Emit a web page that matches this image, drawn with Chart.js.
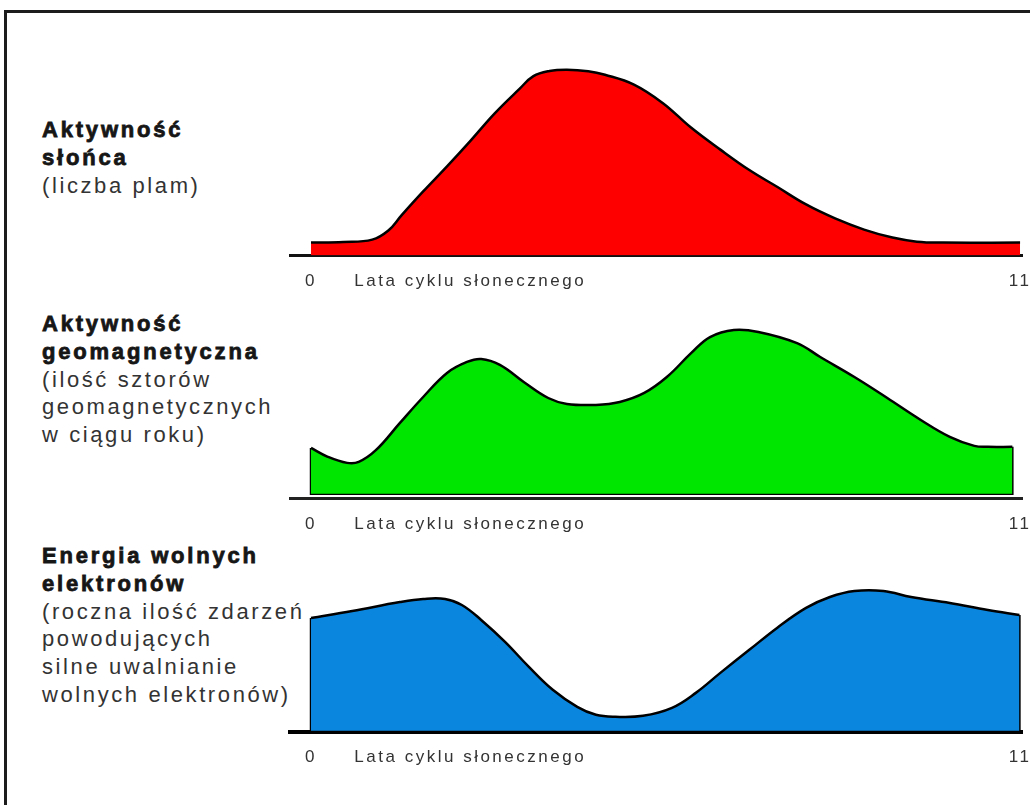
<!DOCTYPE html>
<html lang="pl">
<head>
<meta charset="utf-8">
<title>Cykl słoneczny</title>
<script src="https://cdn.jsdelivr.net/npm/chart.js@4.4.1/dist/chart.umd.min.js"></script>
<style>
    html, body { margin: 0; padding: 0; background: #fff; width: 1030px; height: 805px; overflow: hidden; }
    #frame { position: absolute; left: 4px; top: 10px; width: 1100px; height: 900px; border: 3px solid #1c1c1c; }
    .label { position: absolute; left: 42px; font-family: "Liberation Sans", Arial, sans-serif; font-size: 22px;
             line-height: 27.8px; letter-spacing: 2.6px; color: #333; white-space: nowrap; }
    .label b { color: #161616; letter-spacing: 2.8px; -webkit-text-stroke: 0.8px #161616; }
    canvas { position: absolute; left: 280px; }
</style>
</head>
<body>
<div id="frame"></div>

<div class="label" style="top:116px"><b>Aktywność<br>słońca</b><br>(liczba plam)</div>
<div class="label" style="top:310px"><b>Aktywność<br>geomagnetyczna</b><br>(ilość sztorów<br>geomagnetycznych<br>w ciągu roku)</div>
<div class="label" style="top:542px"><b>Energia wolnych<br>elektronów</b><br>(roczna ilość zdarzeń<br>powodujących<br>silne uwalnianie<br>wolnych elektronów)</div>

<canvas id="sunChart" width="760" height="245" style="top:50px"></canvas>
<canvas id="geoChart" width="760" height="228" style="top:310px"></canvas>
<canvas id="electronChart" width="760" height="203" style="top:568px"></canvas>

<script>
// x axis: years of the solar cycle
var xTickValues = [0, 2.47, 11];
var xTickLabels = ['0', 'Lata cyklu słonecznego', '11'];

// Aktywność słońca (liczba plam), % of maximum
var sunYears  = [0, 0.5, 0.95, 1.2, 1.4, 1.74, 2.11, 2.48, 2.85, 3.23, 3.45, 3.7, 3.97, 4.3, 4.56, 5.01, 5.46, 5.89, 6.35, 6.8, 7.23, 7.68, 8.13, 8.58, 9.02, 9.4, 9.8, 11];
var sunValues = [7, 7.3, 8.6, 13.5, 21.5, 34.5, 48, 62, 76.5, 89.5, 96.5, 99.3, 100, 99.2, 97.3, 92, 82, 69, 57, 46, 37, 27.5, 20, 14, 9.7, 7.5, 7, 7];

// Aktywność geomagnetyczna (ilość sztorów), % of maximum
var geoYears  = [0, 0.26, 0.56, 0.74, 1.01, 1.38, 1.74, 2.11, 2.42, 2.64, 2.93, 3.3, 3.68, 3.97, 4.42, 4.79, 5.17, 5.52, 5.9, 6.19, 6.56, 6.94, 7.54, 7.9, 8.43, 8.94, 9.46, 9.91, 10.29, 10.5, 10.88];
var geoValues = [28, 22.6, 18.9, 19.5, 26.8, 43.3, 59.1, 73.8, 80.5, 82.3, 78.7, 68.3, 58.5, 54.9, 54.3, 56.1, 61.6, 71.3, 86, 95.7, 100, 98.8, 92, 83.5, 71.3, 58.5, 45.1, 34.8, 29.3, 28.7, 28.7];

// Energia wolnych elektronów (roczna ilość zdarzeń), % of maximum
var electronYears  = [0, 0.64, 1.38, 1.74, 2.08, 2.34, 2.64, 3.01, 3.38, 3.75, 4.13, 4.42, 4.72, 5.15, 5.6, 5.97, 6.35, 6.8, 7.23, 7.68, 8.05, 8.43, 8.88, 9.31, 9.91, 10.5, 10.99];
var electronValues = [80.7, 85.7, 92.1, 94.3, 94.3, 90, 79.3, 63.6, 45.7, 29.3, 17.1, 11.4, 10, 10.7, 16.4, 27.1, 41.4, 57.9, 73.6, 87.9, 95.7, 100, 100, 95.7, 91.4, 86.4, 82.9];

var FONT = '"Liberation Sans", Arial, sans-serif';

// canvas letter spacing for the axis texts
var letterSpacingPlugin = {
    id: 'letterSpacing',
    beforeDraw: function (chart) {
        chart.ctx.letterSpacing = '2.5px';
    }
};

function toPoints(xs, ys) {
    return xs.map(function (x, i) { return { x: x, y: ys[i] }; });
}

function CyclePanel(elementId, years, values, color, opts) {

    var datasets = [{
        data: toPoints(years, values),
        borderColor: '#000',
        borderWidth: 2.5,
        backgroundColor: color,
        fill: 'origin',
        pointRadius: 0,
        tension: 0.4
    }];

    // closed outline: vertical edges and bottom line
    if (opts.outline) {
        var first = years[0], last = years[years.length - 1];
        datasets.push({
            data: [
                { x: first, y: values[0] },
                { x: first, y: 0 },
                { x: last, y: 0 },
                { x: last, y: values[values.length - 1] }
            ],
            borderColor: '#000',
            borderWidth: 2.5,
            fill: false,
            pointRadius: 0,
            tension: 0
        });
    }

    return new Chart(document.getElementById(elementId), {
        type: 'line',
        data: { datasets: datasets },
        options: {
            responsive: false,
            animation: false,
            events: [],
            layout: { padding: { left: 10, right: 18, top: 10, bottom: 0 } },
            plugins: { legend: { display: false }, tooltip: { enabled: false } },
            scales: {
                x: {
                    type: 'linear',
                    min: -0.326,
                    max: 11.03,
                    // invisible tick marks only push the labels down
                    grid: { display: true, drawOnChartArea: false, drawTicks: true, tickLength: 13,
                            color: 'rgba(0,0,0,0)', tickColor: 'rgba(0,0,0,0)' },
                    border: { display: true, color: opts.axisColor, width: opts.axisWidth },
                    afterBuildTicks: function (scale) {
                        scale.ticks = xTickValues.map(function (v) { return { value: v }; });
                    },
                    ticks: {
                        autoSkip: false,
                        maxRotation: 0,
                        padding: 3,
                        color: '#333',
                        font: { family: FONT, size: 17 },
                        callback: function (value) {
                            var i = xTickValues.indexOf(value);
                            return i >= 0 ? xTickLabels[i] : '';
                        }
                    }
                },
                y: { display: false, min: opts.yMin, max: opts.yMax }
            }
        },
        plugins: [letterSpacingPlugin]
    });
}

CyclePanel('sunChart', sunYears, sunValues, '#fe0000',
    { yMin: 0, yMax: 105.2, axisColor: '#111', axisWidth: 3, outline: false });
CyclePanel('geoChart', geoYears, geoValues, '#00e600',
    { yMin: -2.9, yMax: 106.1, axisColor: '#222', axisWidth: 3, outline: true });
CyclePanel('electronChart', electronYears, electronValues, '#0b86df',
    { yMin: -0.6, yMax: 109.3, axisColor: '#000', axisWidth: 4, outline: true });
</script>
</body>
</html>
